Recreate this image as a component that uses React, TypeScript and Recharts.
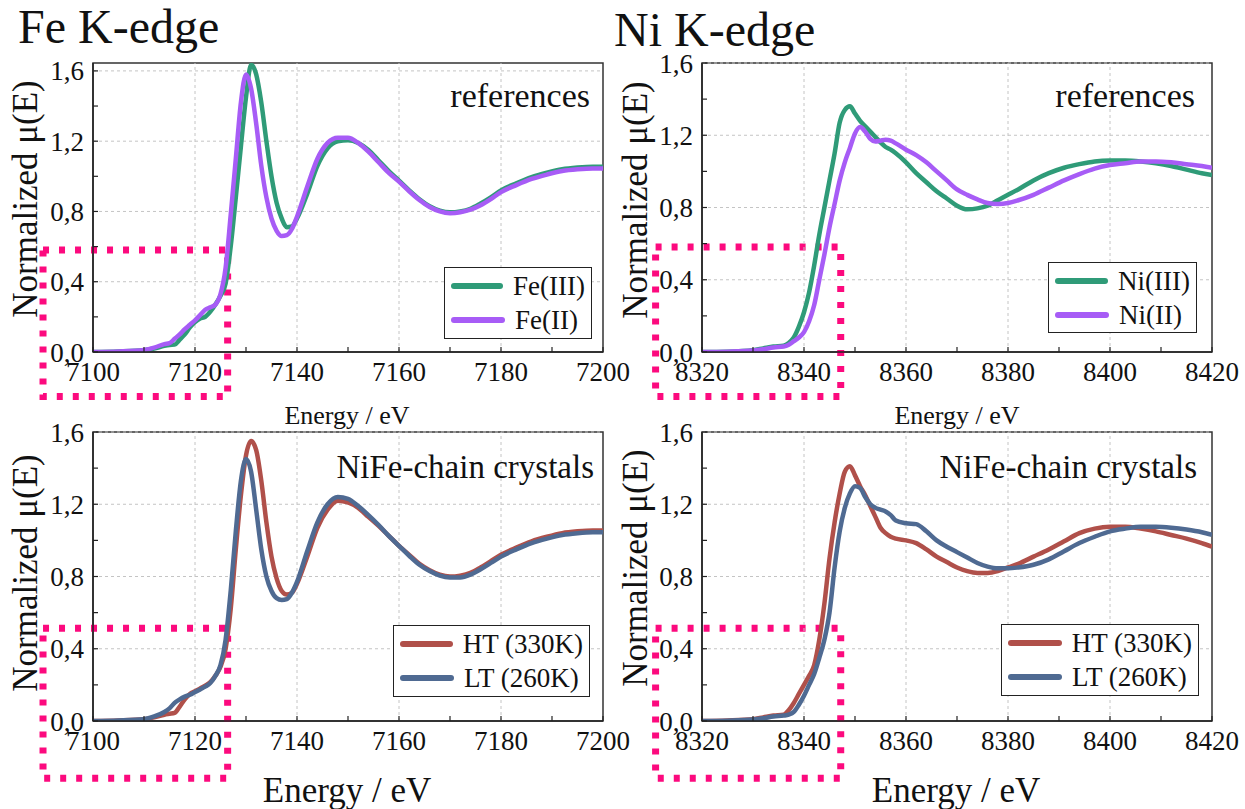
import React from "react";
import {
  LineChart,
  Line,
  XAxis,
  YAxis,
  ReferenceArea,
  ReferenceLine,
  Legend,
} from "recharts";

const FONT = '"Liberation Serif", "Times New Roman", serif';

// Fe K-edge energies (eV)
const feEnergy = [
  7100, 7105, 7110, 7112, 7114, 7115, 7116, 7117, 7118, 7119, 7120, 7121, 7122,
  7123, 7124, 7125, 7126, 7127, 7128, 7129, 7130, 7131, 7132, 7133, 7134, 7135,
  7136, 7137, 7138, 7139, 7140, 7142, 7144, 7146, 7148, 7150, 7152, 7154, 7156,
  7158, 7160, 7162, 7164, 7166, 7168, 7170, 7172, 7174, 7176, 7178, 7180, 7183,
  7186, 7189, 7192, 7195, 7198, 7200,
];
const fe3Ref = [
  0, 0.003, 0.01, 0.02, 0.035, 0.04, 0.042, 0.07, 0.1, 0.14, 0.17, 0.19, 0.2,
  0.23, 0.27, 0.32, 0.39, 0.6, 0.88, 1.17, 1.45, 1.635, 1.58, 1.42, 1.2, 1.0,
  0.85, 0.76, 0.71, 0.715, 0.76, 0.9, 1.06, 1.16, 1.2, 1.205, 1.19, 1.15, 1.09,
  1.03, 0.975, 0.92, 0.87, 0.83, 0.805, 0.795, 0.8, 0.815, 0.845, 0.88, 0.92,
  0.96, 0.995, 1.02, 1.04, 1.05, 1.055, 1.055,
];
const fe2Ref = [
  0, 0.003, 0.012, 0.025, 0.045, 0.05, 0.075, 0.1, 0.13, 0.155, 0.18, 0.21,
  0.24, 0.255, 0.27, 0.33, 0.48, 0.78, 1.1, 1.42, 1.58, 1.5, 1.3, 1.06, 0.88,
  0.76, 0.69, 0.66, 0.665, 0.7, 0.77, 0.94, 1.1, 1.19, 1.22, 1.22, 1.19, 1.14,
  1.08, 1.02, 0.97, 0.915, 0.865, 0.825, 0.8, 0.79, 0.795, 0.81, 0.835, 0.87,
  0.91, 0.95, 0.985, 1.01, 1.03, 1.04, 1.045, 1.045,
];
const feHT = [
  0, 0.003, 0.01, 0.02, 0.035, 0.04, 0.045, 0.08, 0.12, 0.15, 0.165, 0.18,
  0.195, 0.215, 0.25, 0.3, 0.4, 0.62, 0.95, 1.25, 1.47, 1.55, 1.5, 1.33, 1.1,
  0.91, 0.79, 0.72, 0.7, 0.71, 0.76, 0.91, 1.07, 1.17, 1.22, 1.21, 1.18, 1.13,
  1.08, 1.025, 0.97, 0.92, 0.87, 0.835, 0.81, 0.8, 0.805, 0.82, 0.85, 0.885,
  0.92, 0.96, 0.995, 1.02, 1.04, 1.05, 1.055, 1.055,
];
const feLT = [
  0, 0.003, 0.01, 0.025, 0.05, 0.07, 0.1, 0.12, 0.135, 0.145, 0.16, 0.175,
  0.19, 0.21, 0.25, 0.31, 0.45, 0.72, 1.05, 1.33, 1.45, 1.38, 1.17, 0.95, 0.8,
  0.72, 0.68, 0.67, 0.675, 0.71, 0.77, 0.94, 1.1, 1.2, 1.24, 1.23, 1.19, 1.14,
  1.085, 1.025, 0.97, 0.915, 0.865, 0.83, 0.805, 0.795, 0.795, 0.81, 0.84,
  0.875, 0.91, 0.95, 0.985, 1.01, 1.03, 1.04, 1.045, 1.045,
];

// Ni K-edge energies (eV)
const niEnergy = [
  8320, 8325, 8330, 8332, 8334, 8336, 8337, 8338, 8339, 8340, 8341, 8342, 8343,
  8344, 8345, 8346, 8347, 8348, 8349, 8350, 8351, 8352, 8353, 8354, 8355, 8356,
  8357, 8358, 8360, 8362, 8364, 8366, 8368, 8370, 8372, 8374, 8376, 8378, 8380,
  8382, 8385, 8388, 8391, 8394, 8397, 8400, 8403, 8406, 8409, 8412, 8415, 8418,
  8420,
];
const ni3Ref = [
  0, 0.002, 0.01, 0.02, 0.03, 0.035, 0.05, 0.08, 0.14, 0.22, 0.33, 0.48, 0.65,
  0.8, 0.95, 1.1, 1.27, 1.34, 1.36, 1.32, 1.28, 1.25, 1.22, 1.19, 1.16, 1.135,
  1.12, 1.1, 1.05, 0.99, 0.94, 0.89, 0.85, 0.81, 0.79, 0.795, 0.81, 0.84, 0.87,
  0.9, 0.95, 0.99, 1.02, 1.04, 1.055, 1.06, 1.06, 1.055, 1.045, 1.03, 1.01,
  0.99, 0.98,
];
const ni2Ref = [
  0, 0.002, 0.008, 0.015, 0.025, 0.03, 0.04, 0.06, 0.08, 0.11, 0.17, 0.26, 0.4,
  0.54, 0.69, 0.82, 0.95, 1.05, 1.13, 1.21, 1.245, 1.22, 1.18, 1.165, 1.17,
  1.175, 1.17, 1.155, 1.12, 1.09, 1.05, 1.0, 0.95, 0.9, 0.87, 0.845, 0.825,
  0.82, 0.825, 0.84, 0.87, 0.91, 0.95, 0.985, 1.015, 1.035, 1.045, 1.055, 1.055,
  1.05, 1.04, 1.03, 1.02,
];
const niHT = [
  0, 0.003, 0.01, 0.02, 0.03, 0.035, 0.06, 0.1, 0.15, 0.2, 0.25, 0.31, 0.45,
  0.65, 0.9, 1.1, 1.26, 1.38, 1.41, 1.36, 1.3, 1.25, 1.19, 1.13, 1.07, 1.04,
  1.02, 1.01, 1.0, 0.985, 0.95, 0.91, 0.88, 0.85, 0.83, 0.82, 0.82, 0.83, 0.85,
  0.87, 0.91, 0.95, 0.995, 1.04, 1.065, 1.075, 1.075, 1.065, 1.05, 1.03, 1.01,
  0.985, 0.965,
];
const niLT = [
  0, 0.002, 0.008, 0.015, 0.025, 0.03, 0.035, 0.05, 0.09, 0.14, 0.2, 0.26, 0.35,
  0.45, 0.6, 0.85, 1.05, 1.18, 1.26, 1.3, 1.29, 1.24, 1.2, 1.18, 1.17, 1.16,
  1.14, 1.11, 1.095, 1.09, 1.05, 1.0, 0.965, 0.935, 0.905, 0.875, 0.855, 0.845,
  0.845, 0.85, 0.865, 0.895, 0.94, 0.985, 1.02, 1.05, 1.065, 1.075, 1.075, 1.07,
  1.06, 1.045, 1.03,
];

const feTicks = [7100, 7110, 7120, 7130, 7140, 7150, 7160, 7170, 7180, 7190, 7200];
const niTicks = [8320, 8330, 8340, 8350, 8360, 8370, 8380, 8390, 8400, 8410, 8420];
const feGridX = [7120, 7140, 7160, 7180];
const niGridX = [8340, 8360, 8380, 8400];
const yTicks = [0, 0.2, 0.4, 0.6, 0.8, 1.0, 1.2, 1.4, 1.6];
const yGrid = [0.4, 0.8, 1.2, 1.6];

const GREEN = "#2f9b78";
const PURPLE = "#a75cf6";
const RED = "#b0504a";
const BLUE = "#4f6a92";
const PINK = "#fc0a7e";

type Series = { name: string; values: number[]; color: string };

type PanelProps = {
  left: number;
  top: number;
  width: number;
  height: number;
  margin: { top: number; right: number; bottom: number; left: number };
  energy: number[];
  series: Series[];
  xDomain: [number, number];
  yMax: number;
  xTicks: number[];
  gridX: number[];
  box: { x1: number; x2: number; y1: number; y2: number };
  legend: { left: number; top: number; width: number; height: number };
};

function SeriesLegend(props: any) {
  const items = [...(props.payload || [])].sort((a: any, b: any) =>
    String(a.dataKey).localeCompare(String(b.dataKey))
  );
  return (
    <div
      style={{
        border: "1.5px solid #222",
        background: "#fff",
        boxSizing: "border-box",
        width: "100%",
        height: "100%",
        padding: "1px 6px",
      }}
    >
      {items.map((p: any) => (
        <div
          key={p.value}
          style={{ display: "flex", alignItems: "center", height: 34 }}
        >
          <span
            style={{
              display: "inline-block",
              width: 54,
              height: 6,
              borderRadius: 3,
              background: p.color,
            }}
          />
          <span
            style={{
              marginLeft: 10,
              fontSize: 27,
              fontFamily: FONT,
              color: "#111",
              lineHeight: "34px",
              whiteSpace: "nowrap",
            }}
          >
            {p.value}
          </span>
        </div>
      ))}
    </div>
  );
}

const fmtY = (v: number) => {
  const k = Math.round(v * 10);
  return k % 4 === 0 ? (k / 10).toFixed(1).replace(".", ",") : "";
};

function Panel(p: PanelProps) {
  const data = p.energy.map((e, i) => ({
    e,
    s0: p.series[0].values[i],
    s1: p.series[1].values[i],
  }));
  const x0 = p.xDomain[0];
  const tickStyle = { fontSize: 27, fill: "#111", fontFamily: FONT };
  return (
    <div style={{ position: "absolute", left: p.left, top: p.top }}>
      <LineChart width={p.width} height={p.height} data={data} margin={p.margin}>
        {p.gridX.map((g) => (
          <ReferenceLine key={"gx" + g} x={g} stroke="#c4c4c4" strokeDasharray="3 3" />
        ))}
        {yGrid.map((g) => (
          <ReferenceLine key={"gy" + g} y={g} stroke="#c4c4c4" strokeDasharray="3 3" />
        ))}
        <XAxis
          dataKey="e"
          type="number"
          domain={p.xDomain}
          ticks={p.xTicks}
          interval={0}
          allowDataOverflow
          tickFormatter={(v: number) => ((v - x0) % 20 === 0 ? String(v) : "")}
          tickSize={-5}
          tickMargin={15}
          height={40}
          axisLine={{ stroke: "#222", strokeWidth: 1.5 }}
          tickLine={{ stroke: "#222", strokeWidth: 1.2 }}
          tick={tickStyle}
        />
        <YAxis
          type="number"
          domain={[0, p.yMax]}
          ticks={yTicks}
          interval={0}
          allowDataOverflow
          tickFormatter={fmtY}
          tickSize={-5}
          tickMargin={14}
          width={60}
          axisLine={{ stroke: "#222", strokeWidth: 1.5 }}
          tickLine={{ stroke: "#222", strokeWidth: 1.2 }}
          tick={tickStyle}
        />
        <ReferenceArea
          x1={p.xDomain[0]}
          x2={p.xDomain[1]}
          y1={0}
          y2={p.yMax}
          fill="none"
          stroke="#333"
          strokeWidth={1.5}
          ifOverflow="visible"
        />
        <Line
          type="monotone"
          dataKey="s0"
          name={p.series[0].name}
          stroke={p.series[0].color}
          strokeWidth={4.5}
          dot={false}
          isAnimationActive={false}
        />
        <Line
          type="monotone"
          dataKey="s1"
          name={p.series[1].name}
          stroke={p.series[1].color}
          strokeWidth={4.5}
          dot={false}
          isAnimationActive={false}
        />
        <ReferenceArea
          x1={p.box.x1}
          x2={p.box.x2}
          y1={p.box.y1}
          y2={p.box.y2}
          fill="none"
          stroke={PINK}
          strokeWidth={7}
          strokeDasharray="6 10"
          ifOverflow="visible"
        />
        <Legend
          layout="vertical"
          align="center"
          verticalAlign="middle"
          itemSorter="dataKey"
          wrapperStyle={{
            position: "absolute",
            left: p.legend.left,
            top: p.legend.top,
            width: p.legend.width,
            height: p.legend.height,
          }}
          content={<SeriesLegend />}
        />
      </LineChart>
    </div>
  );
}

export default function App() {
  const yLabel = "Normalized μ(E)";
  return (
    <div
      style={{
        position: "absolute",
        left: 0,
        top: 0,
        width: 1245,
        height: 809,
        background: "#fff",
        overflow: "hidden",
      }}
    >
      <Panel
        left={0}
        top={0}
        width={640}
        height={405}
        margin={{ top: 63, right: 37, bottom: 13, left: 33 }}
        energy={feEnergy}
        series={[
          { name: "Fe(III)", values: fe3Ref, color: GREEN },
          { name: "Fe(II)", values: fe2Ref, color: PURPLE },
        ]}
        xDomain={[7100, 7200]}
        yMax={1.645}
        xTicks={feTicks}
        gridX={feGridX}
        box={{ x1: 7090.2, x2: 7126.4, y1: -0.254, y2: 0.58 }}
        legend={{ left: 444, top: 267, width: 148, height: 72 }}
      />
      <Panel
        left={620}
        top={0}
        width={625}
        height={405}
        margin={{ top: 63, right: 33, bottom: 13, left: 22 }}
        energy={niEnergy}
        series={[
          { name: "Ni(III)", values: ni3Ref, color: GREEN },
          { name: "Ni(II)", values: ni2Ref, color: PURPLE },
        ]}
        xDomain={[8320, 8420]}
        yMax={1.6}
        xTicks={niTicks}
        gridX={niGridX}
        box={{ x1: 8310.9, x2: 8347.2, y1: -0.247, y2: 0.581 }}
        legend={{ left: 428, top: 262, width: 149, height: 71 }}
      />
      <Panel
        left={0}
        top={370}
        width={640}
        height={420}
        margin={{ top: 62, right: 37, bottom: 29, left: 33 }}
        energy={feEnergy}
        series={[
          { name: "HT (330K)", values: feHT, color: RED },
          { name: "LT (260K)", values: feLT, color: BLUE },
        ]}
        xDomain={[7100, 7200]}
        yMax={1.6}
        xTicks={feTicks}
        gridX={feGridX}
        box={{ x1: 7090.2, x2: 7126.4, y1: -0.317, y2: 0.513 }}
        legend={{ left: 393, top: 255, width: 197, height: 72 }}
      />
      <Panel
        left={620}
        top={370}
        width={625}
        height={420}
        margin={{ top: 62, right: 33, bottom: 29, left: 22 }}
        energy={niEnergy}
        series={[
          { name: "HT (330K)", values: niHT, color: RED },
          { name: "LT (260K)", values: niLT, color: BLUE },
        ]}
        xDomain={[8320, 8420]}
        yMax={1.6}
        xTicks={niTicks}
        gridX={niGridX}
        box={{ x1: 8310.9, x2: 8347.2, y1: -0.317, y2: 0.513 }}
        legend={{ left: 381, top: 254, width: 198, height: 72 }}
      />
      <svg
        width={1245}
        height={809}
        style={{ position: "absolute", left: 0, top: 0, pointerEvents: "none" }}
        fontFamily={FONT}
        fill="#111"
      >
        <text x={18} y={43} fontSize={48}>Fe K-edge</text>
        <text x={614} y={46} fontSize={48}>Ni K-edge</text>
        <text x={590} y={107} fontSize={34} textAnchor="end">references</text>
        <text x={1195} y={107} fontSize={34} textAnchor="end">references</text>
        <text x={594} y={478} fontSize={33} textAnchor="end">NiFe-chain crystals</text>
        <text x={1197} y={478} fontSize={33} textAnchor="end">NiFe-chain crystals</text>
        <text x={347} y={424} fontSize={26} textAnchor="middle">Energy / eV</text>
        <text x={957} y={424} fontSize={26} textAnchor="middle">Energy / eV</text>
        <text x={347} y={802} fontSize={35} textAnchor="middle">Energy / eV</text>
        <text x={956} y={802} fontSize={35} textAnchor="middle">Energy / eV</text>
        <text x={0} y={0} fontSize={35} textAnchor="middle" transform="translate(37,199) rotate(-90)">{yLabel}</text>
        <text x={0} y={0} fontSize={35} textAnchor="middle" transform="translate(647,200) rotate(-90)">{yLabel}</text>
        <text x={0} y={0} fontSize={35} textAnchor="middle" transform="translate(37,573) rotate(-90)">{yLabel}</text>
        <text x={0} y={0} fontSize={35} textAnchor="middle" transform="translate(647,568) rotate(-90)">{yLabel}</text>
      </svg>
    </div>
  );
}
